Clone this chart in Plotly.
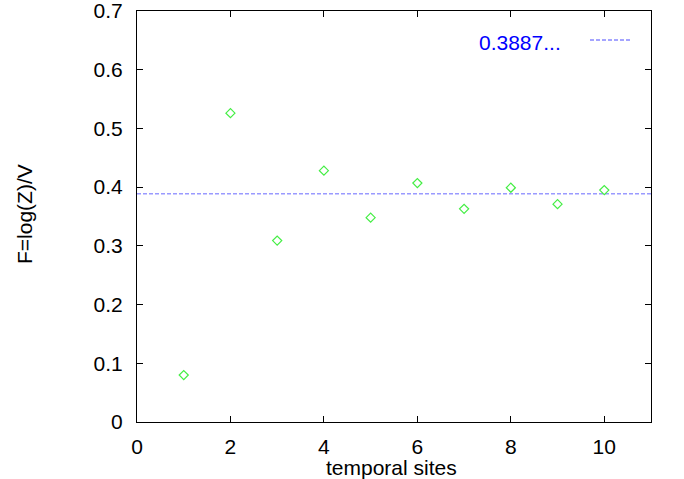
import plotly.graph_objects as go

sites = [1, 2, 3, 4, 5, 6, 7, 8, 9, 10]
free_energy = [0.080, 0.526, 0.309, 0.428, 0.348, 0.407, 0.363, 0.399, 0.371, 0.395]
limit_value = 0.3887
limit_label = "0.3887..."
x_range = [0, 11]
y_range = [0, 0.7]
x_ticks = [0, 2, 4, 6, 8, 10]
y_ticks = [0, 0.1, 0.2, 0.3, 0.4, 0.5, 0.6, 0.7]
y_ticktext = ["0", "0.1", "0.2", "0.3", "0.4", "0.5", "0.6", "0.7"]

font = "Liberation Sans, Arial, Helvetica, sans-serif"
FS = 21

W, H = 684, 479
L, R, T, B = 137, 33, 11, 57
pw, ph = W - L - R, H - T - B

def px(xs):  # screen x -> paper
    return (xs - L) / pw

def py(ys):  # screen y -> paper
    return (H - B - ys) / ph

fig = go.Figure()
fig.add_trace(go.Scatter(
    x=x_range, y=[limit_value, limit_value], mode="lines",
    line=dict(color="#9a9aff", width=1.5, dash="4px,2px"), showlegend=False,
))
fig.add_trace(go.Scatter(
    x=sites, y=free_energy, mode="markers",
    marker=dict(symbol="diamond-open", color="#44ee44", size=7, line=dict(width=1.2)),
    showlegend=False,
))

# legend (gnuplot style: text then sample)
fig.add_annotation(
    x=px(563), y=py(42), xref="paper", yref="paper", xanchor="right", yanchor="middle",
    text=limit_label, showarrow=False, font=dict(family=font, size=FS, color="#0000ff"),
)
fig.add_shape(
    type="line", xref="paper", yref="paper", x0=px(590), x1=px(632), y0=py(40), y1=py(40),
    line=dict(color="#4a4aff", width=1, dash="4px,2px"),
)

# axis titles
fig.add_annotation(
    x=px(391), y=py(467), xref="paper", yref="paper", xanchor="center", yanchor="middle",
    text="temporal sites", showarrow=False, font=dict(family=font, size=FS, color="black"),
)
fig.add_annotation(
    x=px(25), y=py(214), xref="paper", yref="paper", xanchor="center", yanchor="middle",
    text="F=log(Z)/V", textangle=-90, showarrow=False,
    font=dict(family=font, size=FS, color="black"),
)

axis_common = dict(
    showgrid=False, zeroline=False, showline=True, linecolor="black", linewidth=1,
    mirror="ticks", ticks="inside", ticklen=6, tickcolor="black", automargin=False,
    ticklabeloverflow="allow",
    tickfont=dict(family=font, size=FS, color="black"),
)
fig.update_xaxes(range=x_range, tickvals=x_ticks, ticklabelstandoff=6, **axis_common)
fig.update_yaxes(range=y_range, tickvals=y_ticks, ticktext=y_ticktext,
                 ticklabelstandoff=9, **axis_common)

fig.update_layout(
    width=W, height=H,
    margin=dict(l=L, r=R, t=T, b=B),
    plot_bgcolor="white", paper_bgcolor="white",
    font=dict(family=font, size=FS, color="black"),
)

fig.write_html(
    "out.html",
    config={"displayModeBar": False},
    post_script="document.body.style.margin='0';document.body.style.overflow='hidden';",
)
